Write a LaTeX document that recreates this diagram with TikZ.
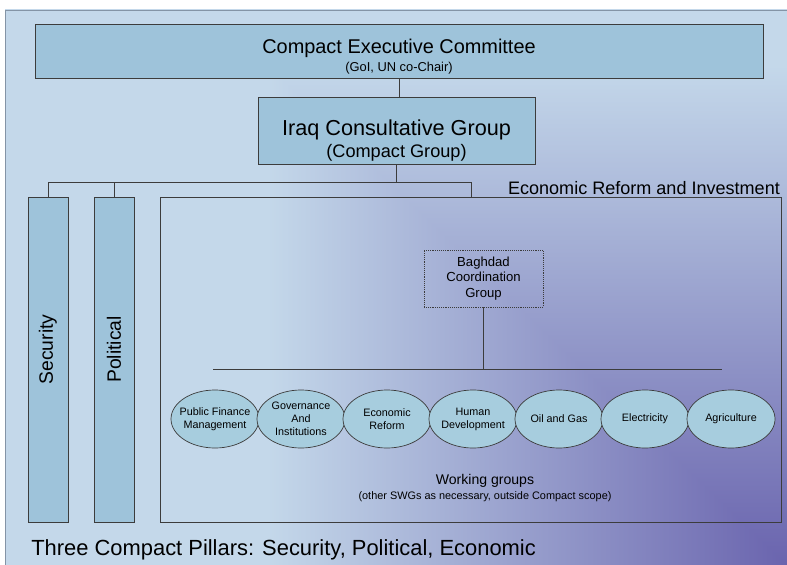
\documentclass[tikz,border=0pt]{standalone}
\usepackage{fontspec}
\setmainfont{Liberation Sans}
\usetikzlibrary{shapes.geometric,positioning}
\definecolor{bgblue}{HTML}{C4D8EA}
\definecolor{boxblue}{HTML}{9EC3DA}
\definecolor{ovalblue}{HTML}{A7CDDE}
\definecolor{edge}{HTML}{3C3C3C}
\definecolor{framegray}{HTML}{8494A6}
% purple corner fading out towards the upper left
\pgfdeclarefunctionalshading{iraqfield}{\pgfpoint{-50bp}{-50bp}}{\pgfpoint{50bp}{50bp}}{}{
  25 add 50 div 444 mul
  exch 25 exch sub 50 div 782 mul 1.3 div
  2 copy lt {exch} if pop
  400 div dup 1 gt {pop 1} if dup 0 lt {pop 0} if
  dup 90 mul 106 add 255 div exch
  dup 116 mul 100 add 255 div exch
  60 mul 174 add 255 div
}
\tikzset{
every picture/.style={
line width=0.6pt
}}
\tikzset{
  orgbox/.style={draw=edge, fill=boxblue, align=center, inner sep=2pt},
  pillar/.style={orgbox, minimum width=1.2cm, minimum height=9.75cm,
    font=\fontsize{16.5}{18}\selectfont},
  econbox/.style={draw=edge, minimum width=18.63cm, minimum height=9.75cm},
  bcgbox/.style={draw=edge, densely dotted, align=center, minimum width=3.57cm,
    minimum height=1.71cm, font=\fontsize{11.2}{13}\selectfont},
  wg/.style={ellipse, draw=edge, fill=ovalblue, minimum width=2.64cm,
    minimum height=1.74cm, inner sep=0pt,
    label={[align=center, font=\fontsize{9.2}{11}\selectfont]center:#1}},
  conn/.style={draw=edge}
}

\begin{document}
\begin{tikzpicture}[x=0.03cm, y=-0.03cm]
  \path[use as bounding box] (0,0) rectangle (787,565);
  \fill[white] (0,0) rectangle (787,565);
  \shade[shading=iraqfield] (5,10) rectangle (787,565);
  \draw[framegray] (787,10) -- (5,10) -- (5,565);

  \node[orgbox, minimum width=21.84cm, minimum height=1.62cm,
    label={[align=center, yshift=-4.7pt, font=\fontsize{17}{15}\selectfont]center:Compact Executive Committee\\\fontsize{11}{13}\selectfont (GoI, UN co-Chair)}]
    (exec) at (399,51) {};
  \node[orgbox, minimum width=8.31cm, minimum height=2.01cm,
    label={[align=center, yshift=-8.5pt, font=\fontsize{18.5}{19}\selectfont]center:Iraq Consultative Group\\\fontsize{15.5}{19}\selectfont (Compact Group)}]
    (icg) at (396.5,130.5) {};

  \node[pillar] (security) at (48,359.5) {\rotatebox{90}{\hspace*{17pt}Security}};
  \node[pillar] (political) at (114,359.5) {\rotatebox{90}{\hspace*{17pt}Political}};
  \node[econbox] (econ) at (470.5,359.5) {};
  \node[anchor=south east, inner sep=1pt, font=\fontsize{15.4}{17}\selectfont] (econlabel) at (econ.north east)
    {Economic Reform and Investment};

  \coordinate (topbus) at (471,182);
  \draw[conn] (exec.south) -- (exec.south |- icg.north);
  \draw[conn] (icg.south) -- (icg.south |- topbus);
  \draw[conn] (security.north) |- (topbus) -- (topbus |- econ.north);
  \draw[conn] (political.north) -- (political.north |- topbus);

  \node[bcgbox] (bcg) at (483.5,278.5) {Baghdad\\Coordination\\Group};
  \coordinate (wgleft) at (213,369);
  \coordinate (wgright) at (722,369);
  \draw[conn] (bcg.south) -- (bcg.south |- wgleft);
  \draw[conn] (wgleft) -- (wgright);

  \foreach \i/\x/\t in {1/215/{Public Finance\\Management}, 2/301/{Governance\\And\\Institutions},
      3/387/{Economic\\Reform}, 4/473/{Human\\Development}, 5/559/{Oil and Gas},
      6/645/{Electricity}, 7/731/{Agriculture}}
    \node[wg=\t] (wg\i) at (\x,419) {};

  \node[align=center, font=\fontsize{12}{13}\selectfont] (wgnote) at (485,488)
    {Working groups\\\fontsize{9.3}{12}\selectfont (other SWGs as necessary, outside Compact scope)};

  \node[anchor=west, inner sep=0pt, font=\fontsize{18.7}{20}\selectfont] (pillars) at (31,550)
    {Three Compact Pillars: Security, Political, Economic};
\end{tikzpicture}
\end{document}
